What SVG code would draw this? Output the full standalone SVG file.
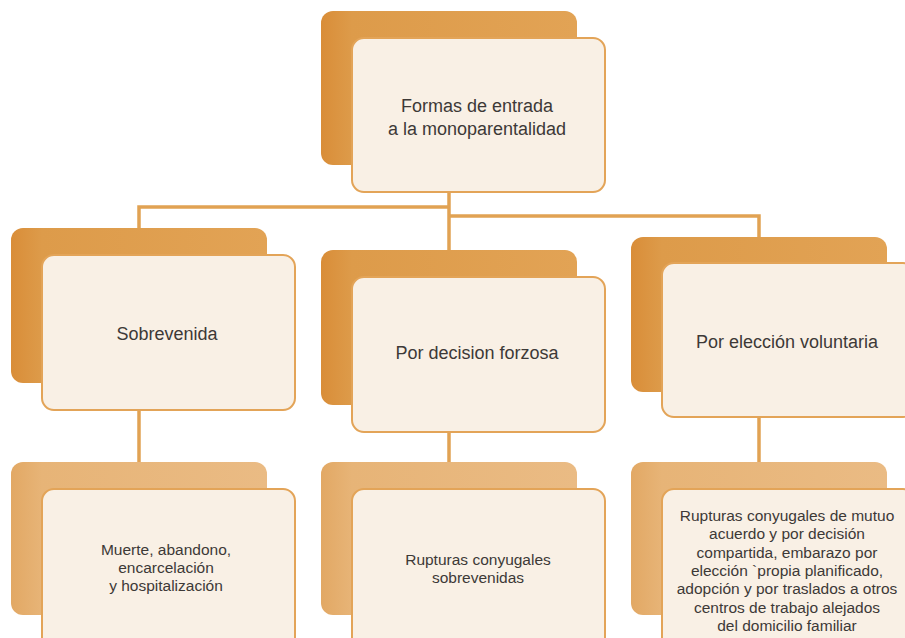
<svg xmlns="http://www.w3.org/2000/svg" width="905" height="638" viewBox="0 0 905 638">
<defs>
<linearGradient id="gTop" x1="0" y1="0" x2="1" y2="0">
<stop offset="0" stop-color="#d98d38"/>
<stop offset="0.12" stop-color="#dd9b4a"/>
<stop offset="1" stop-color="#e2a355"/>
</linearGradient>
<linearGradient id="gBot" x1="0" y1="0" x2="1" y2="0">
<stop offset="0" stop-color="#e2a864"/>
<stop offset="0.12" stop-color="#e7b477"/>
<stop offset="1" stop-color="#eabb84"/>
</linearGradient>
</defs>
<style>
.backT{fill:url(#gTop);}
.backB{fill:url(#gBot);}
.front{fill:#f9f0e5;stroke:#e3a458;stroke-width:2;}
.conn{fill:none;stroke:#e1a253;stroke-width:3.5;}
text{font-family:"Liberation Sans",Arial,sans-serif;fill:#3d3937;text-anchor:middle;}
.big{font-size:18px;}
.small{font-size:15.5px;}
</style>
<g id="connectors">
<path class="conn" d="M449 192 V250"/>
<path class="conn" d="M449 207 H139 V228"/>
<path class="conn" d="M449 216 H759 V237"/>
<path class="conn" d="M139 410 V462"/>
<path class="conn" d="M449 432 V462"/>
<path class="conn" d="M759 417 V462"/>
</g>
<g id="root">
<rect class="backT" x="321" y="11" width="256" height="154" rx="12"/>
<rect class="front" x="352" y="38" width="253" height="154" rx="12"/>
<text class="big" x="477" y="112">Formas de entrada</text>
<text class="big" x="477" y="135">a la monoparentalidad</text>
</g>
<g id="sobrevenida">
<rect class="backT" x="11" y="228" width="256" height="155" rx="12"/>
<rect class="front" x="42" y="255" width="253" height="155" rx="12"/>
<text class="big" x="167" y="340">Sobrevenida</text>
</g>
<g id="forzosa">
<rect class="backT" x="321" y="250" width="256" height="155" rx="12"/>
<rect class="front" x="352" y="277" width="253" height="155" rx="12"/>
<text class="big" x="477" y="359">Por decision forzosa</text>
</g>
<g id="voluntaria">
<rect class="backT" x="631" y="237" width="256" height="155" rx="12"/>
<rect class="front" x="662" y="263" width="253" height="154" rx="12"/>
<text class="big" x="787" y="348">Por elección voluntaria</text>
</g>
<g id="muerte">
<rect class="backB" x="11" y="462" width="256" height="153" rx="12"/>
<rect class="front" x="42" y="489" width="253" height="160" rx="12"/>
<text class="small" x="166" y="555">Muerte, abandono,</text>
<text class="small" x="166" y="573">encarcelación</text>
<text class="small" x="166" y="591">y hospitalización</text>
</g>
<g id="rupturas">
<rect class="backB" x="321" y="462" width="256" height="153" rx="12"/>
<rect class="front" x="352" y="489" width="253" height="160" rx="12"/>
<text class="small" x="478" y="565">Rupturas conyugales</text>
<text class="small" x="478" y="583">sobrevenidas</text>
</g>
<g id="mutuo">
<rect class="backB" x="631" y="462" width="256" height="153" rx="12"/>
<rect class="front" x="662" y="489" width="253" height="160" rx="12"/>
<text class="small" x="787" y="521">Rupturas conyugales de mutuo</text>
<text class="small" x="787" y="539">acuerdo y por decisión</text>
<text class="small" x="787" y="558">compartida, embarazo por</text>
<text class="small" x="787" y="576">elección `propia planificado,</text>
<text class="small" x="787" y="594">adopción y por traslados a otros</text>
<text class="small" x="787" y="613">centros de trabajo alejados</text>
<text class="small" x="787" y="631">del domicilio familiar</text>
</g>
</svg>
